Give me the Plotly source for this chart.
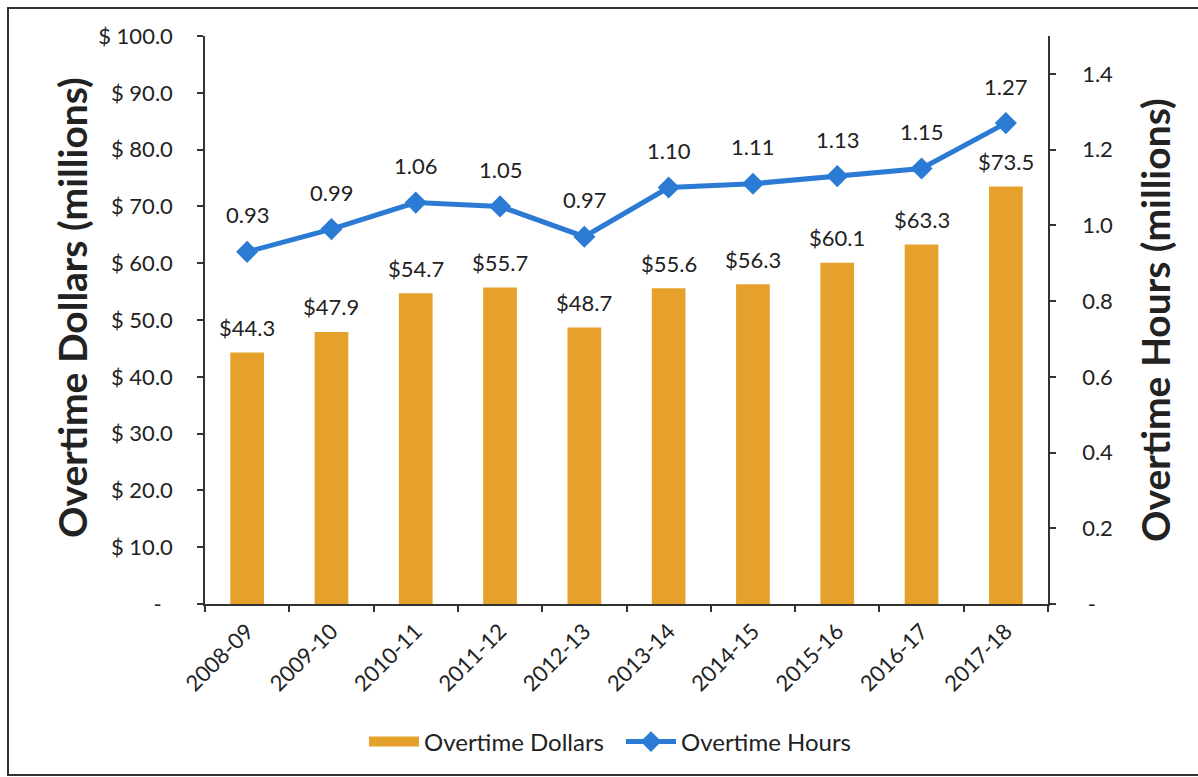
import plotly.graph_objects as go

years = ["2008-09", "2009-10", "2010-11", "2011-12", "2012-13",
         "2013-14", "2014-15", "2015-16", "2016-17", "2017-18"]
dollars = [44.3, 47.9, 54.7, 55.7, 48.7, 55.6, 56.3, 60.1, 63.3, 73.5]
hours = [0.93, 0.99, 1.06, 1.05, 0.97, 1.10, 1.11, 1.13, 1.15, 1.27]

left_ticks = [0, 10, 20, 30, 40, 50, 60, 70, 80, 90, 100]
left_text = ["-\u00a0\u00a0"] + [f"$ {v:.1f}" for v in left_ticks[1:]]
right_ticks = [0, 0.2, 0.4, 0.6, 0.8, 1.0, 1.2, 1.4]
right_text = ["\u00a0-"] + [f"{v:.1f}" for v in right_ticks[1:]]

FONT = "Lato, 'Open Sans', sans-serif"
BAR_COLOR = "#E6A02C"
LINE_COLOR = "#2B7BD4"
TXT = "#222222"

fig = go.Figure()
fig.add_trace(go.Bar(x=years, y=dollars, name="Overtime Dollars",
                     marker=dict(color=BAR_COLOR, line=dict(width=0)),
                     yaxis="y", showlegend=False))
# legend-only entry so the swatch is a wide block like the reference
fig.add_trace(go.Scatter(x=[None], y=[None], name="Overtime Dollars",
                         mode="lines", line=dict(color=BAR_COLOR, width=16),
                         yaxis="y", hoverinfo="skip"))
fig.add_trace(go.Scatter(x=years, y=hours, name="Overtime Hours",
                         mode="lines+markers", yaxis="y2",
                         line=dict(color=LINE_COLOR, width=5),
                         marker=dict(symbol="diamond", size=17, color=LINE_COLOR)))

annotations = []
for x, v in zip(years, dollars):
    annotations.append(dict(x=x, y=v, xref="x", yref="y", text=f"${v:.1f}",
                            showarrow=False, yshift=25,
                            font=dict(family=FONT, size=22, color=TXT)))
for x, v in zip(years, hours):
    annotations.append(dict(x=x, y=v, xref="x", yref="y2", text=f"{v:.2f}",
                            showarrow=False, yshift=37,
                            font=dict(family=FONT, size=22, color=TXT)))

L, R, T, B = 205, 150, 36, 173
W, H = 1198, 777
pw, ph = W - L - R, H - T - B

def px_x(p):
    return (p - L) / pw

def px_y(p):
    return (H - B - p) / ph

annotations.append(dict(xref="paper", yref="paper", x=px_x(72), y=px_y(308),
                        xanchor="center", yanchor="middle",
                        text="<b>Overtime Dollars (millions)</b>", textangle=-90,
                        showarrow=False, font=dict(family=FONT, size=39, color=TXT)))
annotations.append(dict(xref="paper", yref="paper", x=px_x(1155), y=px_y(320),
                        xanchor="center", yanchor="middle",
                        text="<b>Overtime Hours (millions)</b>", textangle=-90,
                        showarrow=False, font=dict(family=FONT, size=39, color=TXT)))

axis_line = dict(showline=True, linecolor="#333333", linewidth=1.5,
                 ticks="outside", ticklen=6, tickcolor="#333333", tickwidth=1.5,
                 showgrid=False, zeroline=False)

fig.update_layout(
    width=W, height=H,
    margin=dict(l=L, r=R, t=T, b=B, pad=0),
    paper_bgcolor="white", plot_bgcolor="white",
    font=dict(family=FONT, size=22, color=TXT),
    bargap=0.6,
    showlegend=True,
    legend=dict(orientation="h", x=px_x(364), xanchor="left",
                y=px_y(742), yanchor="middle",
                font=dict(family=FONT, size=24, color=TXT),
                itemwidth=50, entrywidth=192, entrywidthmode="pixels",
                traceorder="normal"),
    xaxis=dict(**axis_line, type="category", tickson="boundaries", tickangle=-45,
               range=[-0.5, len(years) - 0.5], ticklabelstandoff=4,
               tickfont=dict(family=FONT, size=22, color=TXT),
               categoryorder="array", categoryarray=years),
    yaxis=dict(**axis_line, range=[0, 100], tickvals=left_ticks, ticktext=left_text,
               tickfont=dict(family=FONT, size=22, color=TXT), ticklabelstandoff=20),
    yaxis2=dict(**axis_line, overlaying="y", side="right", range=[0, 1.5],
                tickvals=right_ticks, ticktext=right_text,
                tickfont=dict(family=FONT, size=22, color=TXT), ticklabelstandoff=22),
    annotations=annotations,
    shapes=[dict(type="rect", xref="paper", yref="paper",
                 x0=px_x(8), x1=px_x(1215), y0=px_y(8), y1=px_y(775),
                 line=dict(color="#333333", width=2), layer="below")],
)

fig.write_html("out.html", config={"displayModeBar": False},
               post_script="document.body.style.margin='0px';")
